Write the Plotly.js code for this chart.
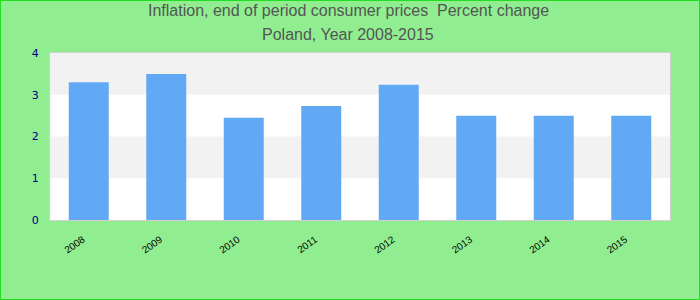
<!DOCTYPE html>
<html>
<head>
<meta charset="utf-8">
<script src="https://cdn.plot.ly/plotly-3.0.1.min.js"></script>
<style>
html,body{margin:0;padding:0;background:#90ee90;}
#chart{width:698px;height:298px;border:1px solid #22dd22;}
</style>
</head>
<body>
<div id="chart"></div>
<script>
var years = ["2008","2009","2010","2011","2012","2013","2014","2015"];
var inflation = [3.3, 3.5, 2.45, 2.73, 3.24, 2.5, 2.5, 2.5];
var yTicks = [0, 1, 2, 3, 4];
var titleLines = ["Inflation, end of period consumer prices  Percent change", "Poland, Year 2008-2015"];

var bands = [];
for (var i = 0; i < yTicks.length - 1; i++) {
  if (i % 2 === 1) {
    bands.push({type:'rect', xref:'paper', yref:'y', x0:0, x1:1, y0:yTicks[i], y1:yTicks[i+1],
      fillcolor:'#f2f2f2', line:{width:0}, layer:'below'});
  }
}

var titleFont = {family:'Liberation Sans, Arial, sans-serif', size:16, color:'#555555'};
var titleY = [1.253, 1.113];
var annotations = titleLines.map(function(t, k){
  return {text:t, xref:'paper', yref:'paper', x:0.481, y:titleY[k], xanchor:'center', yanchor:'middle',
    showarrow:false, font:titleFont};
});

Plotly.newPlot('chart', [{
  type:'bar', x:years, y:inflation,
  marker:{color:'#62a9f5'}, hoverinfo:'x+y'
}], {
  width:698, height:298,
  margin:{l:49, r:29, t:52, b:79},
  paper_bgcolor:'#90ee90', plot_bgcolor:'#ffffff',
  bargap:0.484,
  annotations:annotations,
  font:{family:'Liberation Sans, Arial, sans-serif'},
  xaxis:{type:'category', tickangle:-35, tickfont:{size:10, color:'#000000'},
    showline:true, mirror:true, linecolor:'#d0d0d0', linewidth:1,
    ticks:'outside', ticklen:9, tickcolor:'rgba(0,0,0,0)', showgrid:false, ticklabelshift:-6},
  yaxis:{range:[0,4], tickvals:yTicks, tickfont:{family:'DejaVu Sans, sans-serif', size:11, color:'#00008b'},
    showline:true, mirror:true, linecolor:'#d0d0d0', linewidth:1,
    ticks:'outside', ticklen:8, tickcolor:'rgba(0,0,0,0)', showgrid:false, zeroline:false},
  shapes:bands,
  showlegend:false
}, {displayModeBar:false, staticPlot:true});
</script>
</body>
</html>
